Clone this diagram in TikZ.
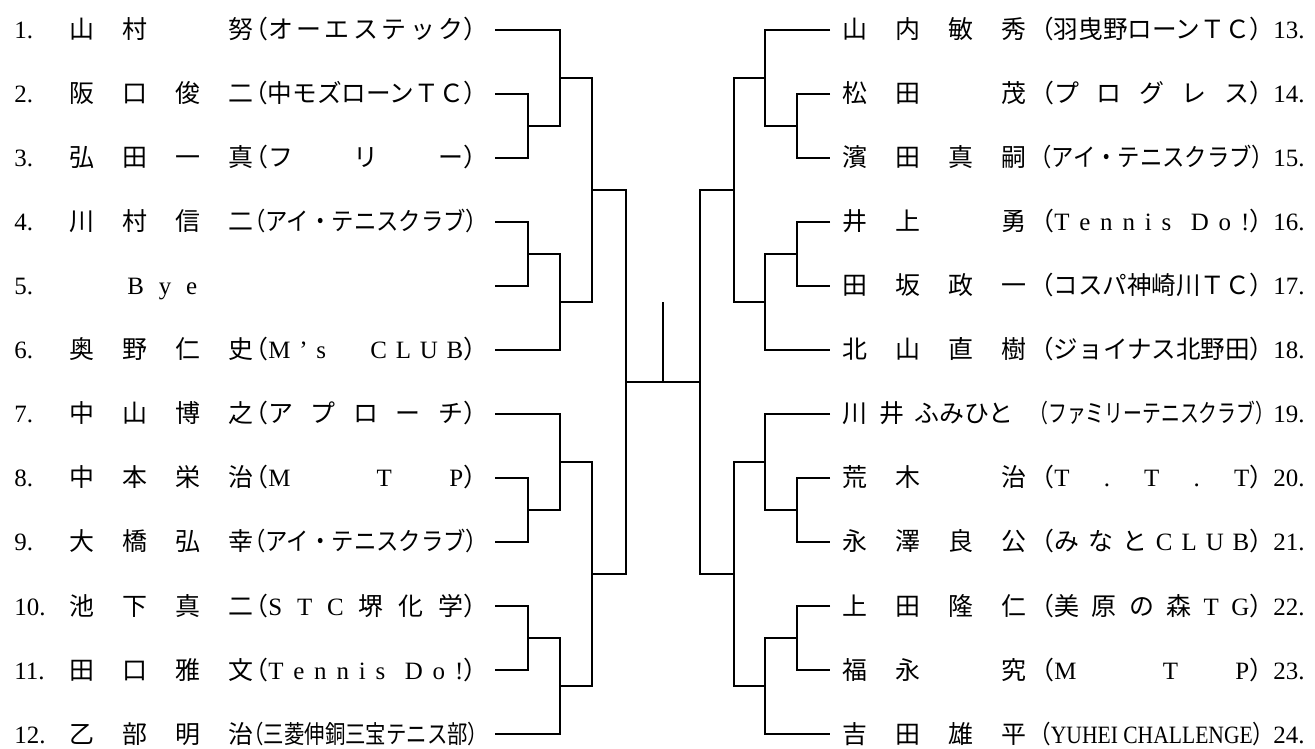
\documentclass[tikz,border=0pt]{standalone}
\usepackage{fontspec}
\usepackage{graphicx}
\setmainfont{Liberation Serif}
\newfontfamily\jp{Noto Sans CJK JP}
\frenchspacing
\newcommand\lat[1]{{\rmfamily #1}}
% 名前: 一文字ずつ等間隔のマスに置く
\newcommand\nm[1]{\nmA#1\relax}
\def\nmA#1{\ifx\relax#1\else\makebox[1.06cm][l]{#1}\expandafter\nmA\fi}
% 所属: 括弧の中を均等割り
\newcommand\spr[1]{\makebox[4.9cm]{（\sprA#1\relax）}}
\def\sprA#1{#1\sprB}
\def\sprB#1{\ifx\relax#1\else\hfill#1\expandafter\sprB\fi}
% 所属: 長体で幅に収める
\newcommand\fit[1]{\resizebox{4.9cm}{\height}{#1}}
\newcommand\lsp[1]{\makebox[4.9cm][s]{#1}}
\tikzset{
  entry/.style={anchor=base west, inner sep=0pt, font=\jp\fontsize{14.2pt}{17pt}\selectfont},
  bracket/.style={line width=0.8pt}
}

\begin{document}
\begin{tikzpicture}[x=0.02cm,y=-0.02cm]
  \useasboundingbox (0,0) rectangle (1315,749);
  % 左の山
  \foreach \i/\nam/\cl in {
    1/{\nm{山村　努}}/{\spr{オーエステック}},
    2/{\nm{阪口俊二}}/{\fit{（中モズローンＴＣ）}},
    3/{\nm{弘田一真}}/{\spr{フリー}},
    4/{\nm{川村信二}}/{\fit{（アイ・テニスクラブ）}},
    5/{\hspace*{1.16cm}\makebox[1.4cm][s]{\lat{B y e}}}/{},
    6/{\nm{奥野仁史}}/{\lsp{（\lat{M ' s \ \ \ \ C L U B}）}},
    7/{\nm{中山博之}}/{\spr{アプローチ}},
    8/{\nm{中本栄治}}/{\lsp{（\lat{M \ \ T \ P}）}},
    9/{\nm{大橋弘幸}}/{\fit{（アイ・テニスクラブ）}},
    10/{\nm{池下真二}}/{\spr{{\lat S}{\lat T}{\lat C}堺化学}},
    11/{\nm{田口雅文}}/{\lsp{（\lat{T e n n i s \ D o !}）}},
    12/{\nm{乙部明治}}/{\fit{（三菱伸銅三宝テニス部）}}}{
    \node[entry] (num\i) at (14,64*\i-25) {\lat{\i.}};
    \node[entry] (nam\i) at (69,64*\i-25) {\nam};
    \node[entry] (club\i) at (243,64*\i-25) {\cl};
    \coordinate (a\i) at (495,64*\i-34);
  }
  % 右の山
  \foreach \j/\nam/\cl in {
    13/{\nm{山内敏秀}}/{\fit{（羽曳野ローンＴＣ）}},
    14/{\nm{松田　茂}}/{\spr{プログレス}},
    15/{\nm{濱田真嗣}}/{\fit{（アイ・テニスクラブ）}},
    16/{\nm{井上　勇}}/{\lsp{（\lat{T e n n i s \ D o !}）}},
    17/{\nm{田坂政一}}/{\fit{（コスパ神崎川ＴＣ）}},
    18/{\nm{北山直樹}}/{\fit{（ジョイナス北野田）}},
    19/{\makebox[0.75cm][l]{川}\makebox[0.7cm][l]{井}ふみひと}/{\fit{（ファミリーテニスクラブ）}},
    20/{\nm{荒木　治}}/{\spr{{\lat T}{\lat .}{\lat T}{\lat .}{\lat T}}},
    21/{\nm{永澤良公}}/{\spr{みなと{\lat C}{\lat L}{\lat U}{\lat B}}},
    22/{\nm{上田隆仁}}/{\spr{美原の森{\lat T}{\lat G}}},
    23/{\nm{福永　究}}/{\lsp{（\lat{M \ \ T \ P}）}},
    24/{\nm{吉田雄平}}/{\fit{（\lat{YUHEI CHALLENGE}）}}}{
    \node[entry] (nam\j) at (842,64*\j-793) {\nam};
    \node[entry] (club\j) at (1029,64*\j-793) {\cl};
    \node[entry] (num\j) at (1273,64*\j-793) {\lat{\j.}};
    \coordinate (b\j) at (830,64*\j-802);
  }
  % 左の組み合わせ点
  \coordinate (m23) at (528,126);
  \coordinate (m123) at (560,78);
  \coordinate (m45) at (528,254);
  \coordinate (m456) at (560,302);
  \coordinate (mA) at (592,190);
  \coordinate (m89) at (528,510);
  \coordinate (m789) at (560,462);
  \coordinate (m1011) at (528,638);
  \coordinate (m1012) at (560,686);
  \coordinate (mB) at (592,574);
  \coordinate (mL) at (626,382);
  % 右の組み合わせ点
  \coordinate (n1415) at (797,126);
  \coordinate (n1315) at (765,78);
  \coordinate (n1617) at (797,254);
  \coordinate (n1618) at (765,302);
  \coordinate (nA) at (734,190);
  \coordinate (n2021) at (797,510);
  \coordinate (n1921) at (765,462);
  \coordinate (n2223) at (797,638);
  \coordinate (n2224) at (765,686);
  \coordinate (nB) at (734,574);
  \coordinate (nR) at (700,382);
  % 決勝
  \coordinate (foot) at (663,382);
  \coordinate (top) at (663,302);

  \draw[bracket] (a2) -| (m23) |- (a3);
  \draw[bracket] (a1) -| (m123) |- (m23);
  \draw[bracket] (a4) -| (m45) |- (a5);
  \draw[bracket] (m45) -| (m456) |- (a6);
  \draw[bracket] (m123) -| (mA) |- (m456);
  \draw[bracket] (a8) -| (m89) |- (a9);
  \draw[bracket] (a7) -| (m789) |- (m89);
  \draw[bracket] (a10) -| (m1011) |- (a11);
  \draw[bracket] (m1011) -| (m1012) |- (a12);
  \draw[bracket] (m789) -| (mB) |- (m1012);
  \draw[bracket] (mA) -| (mL) |- (mB);

  \draw[bracket] (b14) -| (n1415) |- (b15);
  \draw[bracket] (b13) -| (n1315) |- (n1415);
  \draw[bracket] (b16) -| (n1617) |- (b17);
  \draw[bracket] (n1617) -| (n1618) |- (b18);
  \draw[bracket] (n1315) -| (nA) |- (n1618);
  \draw[bracket] (b20) -| (n2021) |- (b21);
  \draw[bracket] (b19) -| (n1921) |- (n2021);
  \draw[bracket] (b22) -| (n2223) |- (b23);
  \draw[bracket] (n2223) -| (n2224) |- (b24);
  \draw[bracket] (n1921) -| (nB) |- (n2224);
  \draw[bracket] (nA) -| (nR) |- (nB);

  \draw[bracket] (mL) -- (nR);
  \draw[bracket] (foot) -- (top);
\end{tikzpicture}
\end{document}
